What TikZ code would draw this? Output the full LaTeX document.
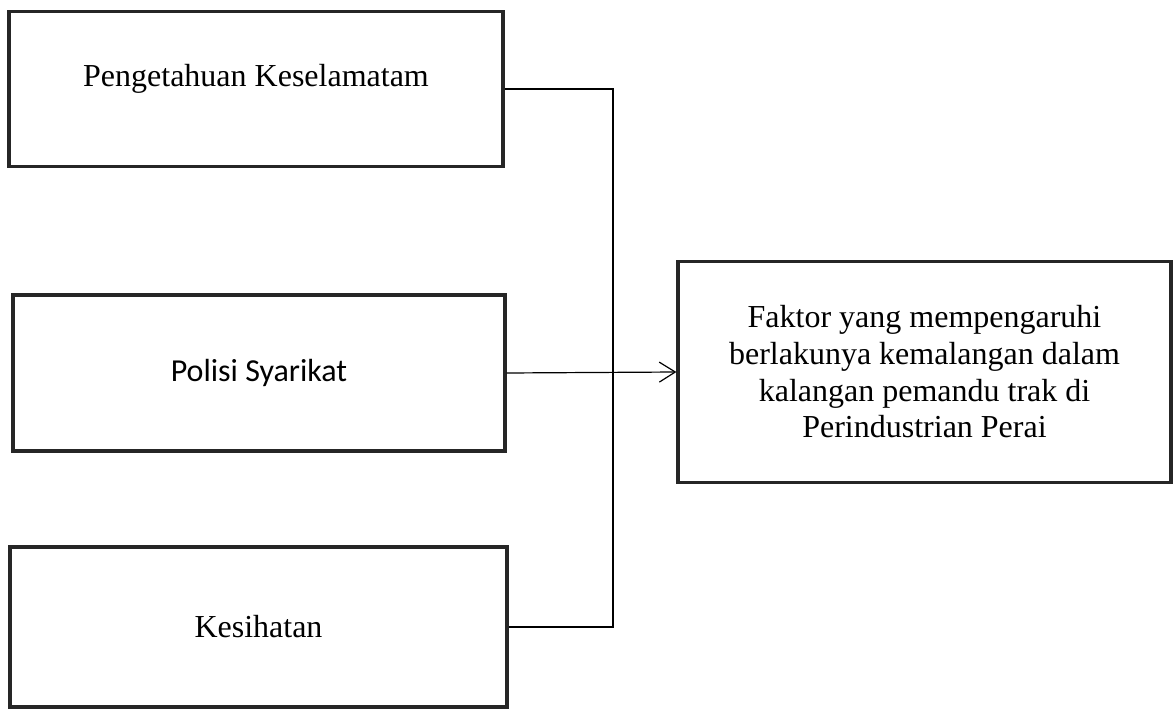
\documentclass[tikz,border=0pt]{standalone}
\usepackage{fontspec}
\setmainfont{Liberation Serif}
\newfontfamily\calibrifont{Carlito}
\usetikzlibrary{arrows.meta}

\tikzset{
  factor/.style={draw=black!85, line width=2.4pt, align=center,
    font=\fontsize{24}{27.5}\selectfont},
  link/.style={draw=black, line width=0.9pt},
}

\begin{document}
\begin{tikzpicture}[x=0.75pt, y=-0.75pt]
		%%%%% START %%%%%
		\useasboundingbox (0,0) rectangle (1173,713);

		% left column
		\node[factor, minimum width=370.5pt, minimum height=116pt, text depth=20pt] (pk) at (256,89) {Pengetahuan Keselamatam};
		\node[factor, minimum width=369pt, minimum height=117pt, font=\calibrifont\fontsize{24}{28}\selectfont] (ps) at (259,373) {Polisi Syarikat};
		\node[factor, minimum width=372.75pt, minimum height=120pt] (ks) at (258.5,627) {Kesihatan};

		% result
		\node[factor, minimum width=369.75pt, minimum height=165.75pt] (fk) at (924.5,372) {Faktor yang mempengaruhi\\berlakunya kemalangan dalam\\kalangan pemandu trak di\\Perindustrian Perai};

		\coordinate (jn) at (613,373);
		\draw[link] (pk.east) -| (jn) |- (ks.east);
		\draw[link, -{Straight Barb[length=12pt, width=15pt, line width=0.9pt]}] (ps.east) -- (fk.west);

		%%%%% END %%%%%
	\end{tikzpicture}
\end{document}
